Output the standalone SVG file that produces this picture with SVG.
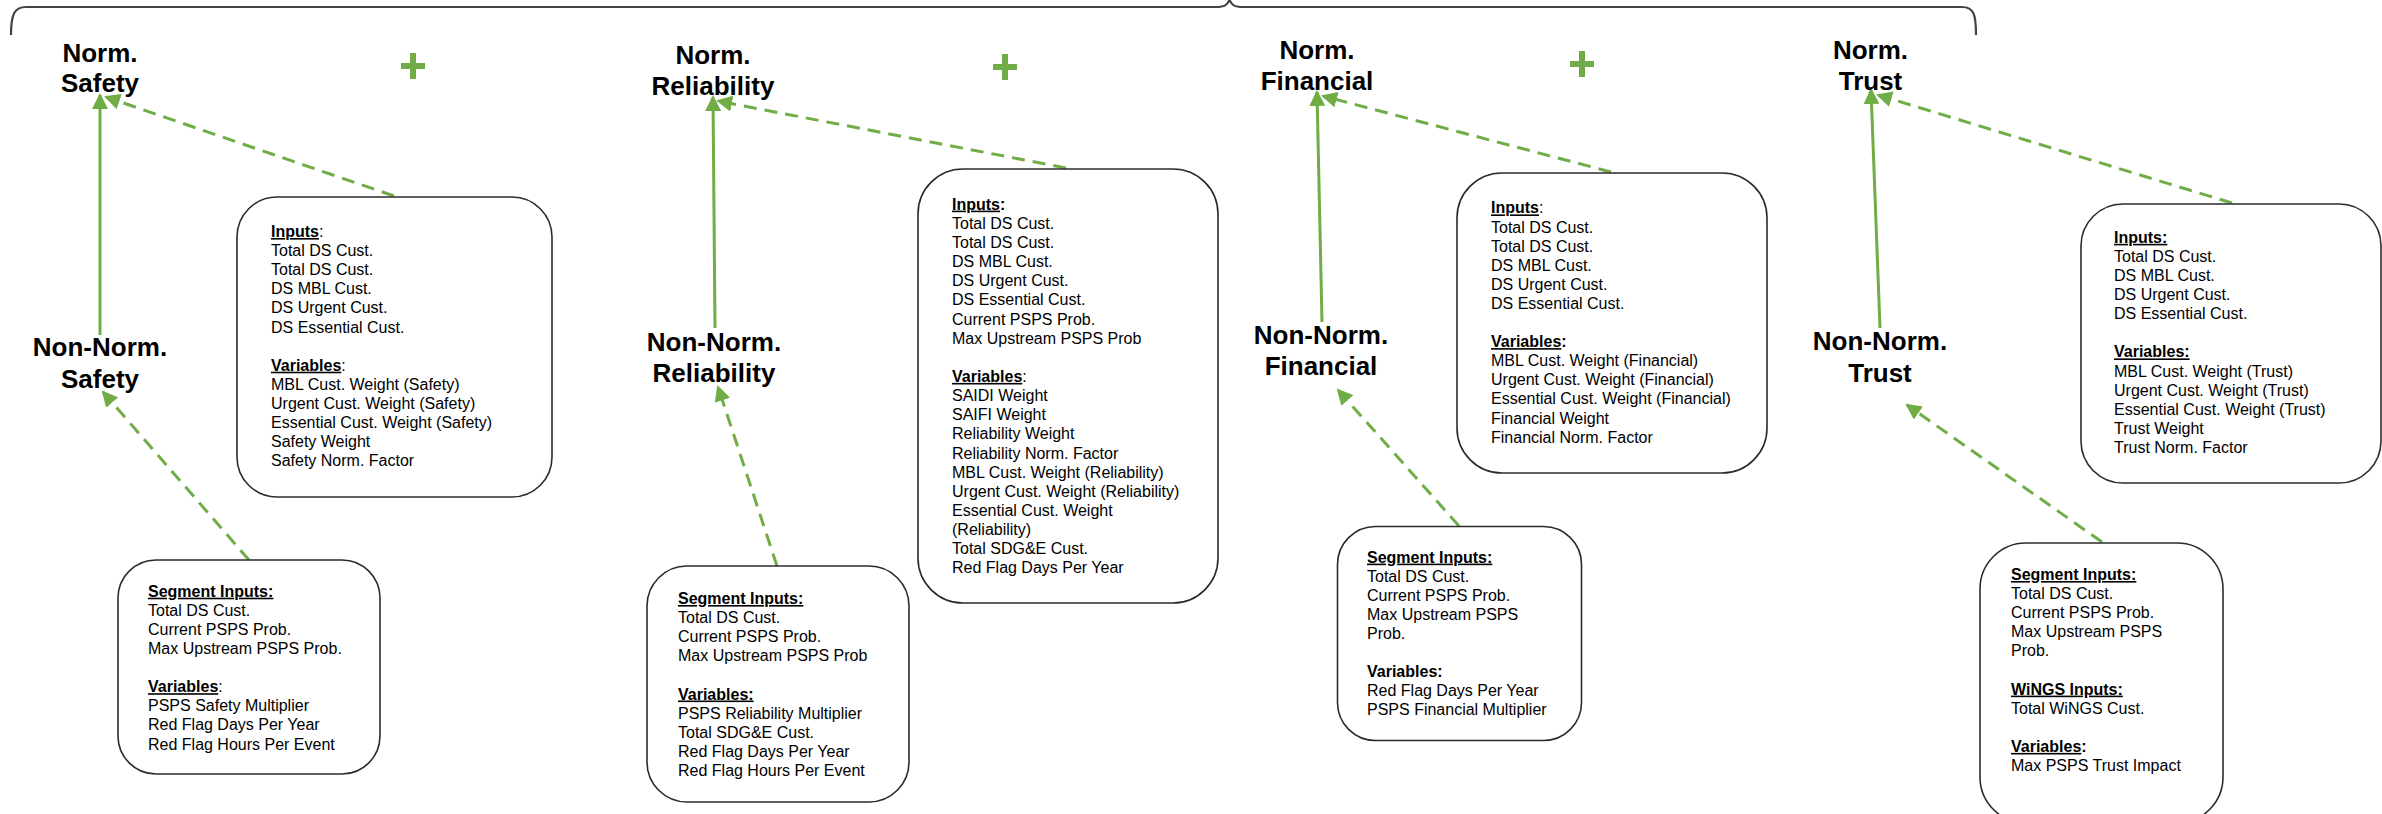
<svg xmlns="http://www.w3.org/2000/svg" width="2382" height="814" viewBox="0 0 2382 814">
  <style>
    text { font-family: "Liberation Sans", Arial, sans-serif; fill: #000; }
    .lbl { font-size: 26px; font-weight: bold; text-anchor: middle; }
    .body { font-size: 16px; }
    .b { font-weight: bold; }
    .u { text-decoration: underline; }
    .box { fill: #fff; stroke: #2b2b2b; stroke-width: 1.6; }
    .brace { fill: none; stroke: #444; stroke-width: 2.2; }
    .solid { fill: none; stroke: #70AD47; stroke-width: 3; marker-end: url(#head); }
    .dash { fill: none; stroke: #70AD47; stroke-width: 3; stroke-dasharray: 13 8; marker-end: url(#head); }
    .plus { fill: #70AD47; }
  </style>
  <defs>
    <marker id="head" viewBox="0 0 16 16" refX="14" refY="8" markerWidth="16" markerHeight="16" markerUnits="userSpaceOnUse" orient="auto">
      <path d="M0,0 L16,8 L0,16 z" fill="#70AD47"/>
    </marker>
  </defs>

  <rect width="2382" height="814" fill="#fff"/>

  <!-- grouping brace over the four normalized scores -->
  <path class="brace" d="M11,35 C11,15 14,7 26,7 L1216,7 C1225,7 1227,5 1229.5,0 C1232,5 1234,7 1243,7 L1962,7 C1974,7 1976,15 1976,35"/>

  <!-- summation signs -->
  <g id="plus-signs">
    <rect class="plus" x="401" y="63" width="24" height="6"/><rect class="plus" x="410" y="53" width="6" height="26"/>
    <rect class="plus" x="993" y="64" width="24" height="6"/><rect class="plus" x="1002" y="54" width="6" height="26"/>
    <rect class="plus" x="1570" y="61" width="24" height="6"/><rect class="plus" x="1579" y="51" width="6" height="26"/>
  </g>

  <!-- connectors -->
  <g id="connectors">
    <line class="solid" x1="100" y1="335" x2="100" y2="95"/>
    <line class="solid" x1="715" y1="328" x2="713" y2="97"/>
    <line class="solid" x1="1322" y1="322" x2="1317" y2="92"/>
    <line class="solid" x1="1880" y1="328" x2="1871" y2="90"/>

    <line class="dash" x1="394" y1="196" x2="106" y2="97"/>
    <line class="dash" x1="1066" y1="168" x2="718" y2="101"/>
    <line class="dash" x1="1611" y1="172" x2="1323" y2="96"/>
    <line class="dash" x1="2232" y1="203" x2="1878" y2="95"/>

    <line class="dash" x1="249" y1="560" x2="103" y2="392"/>
    <line class="dash" x1="777" y1="566" x2="718" y2="387"/>
    <line class="dash" x1="1459" y1="526" x2="1338" y2="390"/>
    <line class="dash" x1="2102" y1="542" x2="1907" y2="405"/>
  </g>

  <!-- Safety column -->
  <g id="norm-safety">
    <text class="lbl"><tspan x="100" y="61.5">Norm.</tspan><tspan x="100" y="92">Safety</tspan></text>
  </g>
  <g id="non-norm-safety">
    <text class="lbl"><tspan x="100" y="356">Non-Norm.</tspan><tspan x="100" y="387.5">Safety</tspan></text>
  </g>
  <g id="safety-inputs">
    <rect class="box" x="237" y="197" width="315" height="300" rx="40"/>
    <text class="body">
      <tspan x="271" y="237"><tspan class="b u">Inputs</tspan>:</tspan>
      <tspan x="271" y="256.1">Total DS Cust.</tspan>
      <tspan x="271" y="275.2">Total DS Cust.</tspan>
      <tspan x="271" y="294.3">DS MBL Cust.</tspan>
      <tspan x="271" y="313.4">DS Urgent Cust.</tspan>
      <tspan x="271" y="332.5">DS Essential Cust.</tspan>
      <tspan x="271" y="370.7"><tspan class="b u">Variables</tspan>:</tspan>
      <tspan x="271" y="389.8">MBL Cust. Weight (Safety)</tspan>
      <tspan x="271" y="408.9">Urgent Cust. Weight (Safety)</tspan>
      <tspan x="271" y="428">Essential Cust. Weight (Safety)</tspan>
      <tspan x="271" y="447.1">Safety Weight</tspan>
      <tspan x="271" y="466.2">Safety Norm. Factor</tspan>
    </text>
  </g>
  <g id="safety-segment">
    <rect class="box" x="118" y="560" width="262" height="214" rx="38"/>
    <text class="body">
      <tspan x="148" y="596.7" class="b u">Segment Inputs:</tspan>
      <tspan x="148" y="615.8">Total DS Cust.</tspan>
      <tspan x="148" y="634.9">Current PSPS Prob.</tspan>
      <tspan x="148" y="654">Max Upstream PSPS Prob.</tspan>
      <tspan x="148" y="692.2"><tspan class="b u">Variables</tspan>:</tspan>
      <tspan x="148" y="711.3">PSPS Safety Multiplier</tspan>
      <tspan x="148" y="730.4">Red Flag Days Per Year</tspan>
      <tspan x="148" y="749.5">Red Flag Hours Per Event</tspan>
    </text>
  </g>

  <!-- Reliability column -->
  <g id="norm-reliability">
    <text class="lbl"><tspan x="713" y="63.5">Norm.</tspan><tspan x="713" y="94.5">Reliability</tspan></text>
  </g>
  <g id="non-norm-reliability">
    <text class="lbl"><tspan x="714" y="350.5">Non-Norm.</tspan><tspan x="714" y="381.5">Reliability</tspan></text>
  </g>
  <g id="reliability-inputs">
    <rect class="box" x="918" y="169" width="300" height="434" rx="45"/>
    <text class="body">
      <tspan x="952" y="209.6"><tspan class="b u">Inputs</tspan><tspan class="b">:</tspan></tspan>
      <tspan x="952" y="228.7">Total DS Cust.</tspan>
      <tspan x="952" y="247.9">Total DS Cust.</tspan>
      <tspan x="952" y="267">DS MBL Cust.</tspan>
      <tspan x="952" y="286.2">DS Urgent Cust.</tspan>
      <tspan x="952" y="305.3">DS Essential Cust.</tspan>
      <tspan x="952" y="324.5">Current PSPS Prob.</tspan>
      <tspan x="952" y="343.6">Max Upstream PSPS Prob</tspan>
      <tspan x="952" y="381.9"><tspan class="b u">Variables</tspan>:</tspan>
      <tspan x="952" y="401.1">SAIDI Weight</tspan>
      <tspan x="952" y="420.2">SAIFI Weight</tspan>
      <tspan x="952" y="439.4">Reliability Weight</tspan>
      <tspan x="952" y="458.5">Reliability Norm. Factor</tspan>
      <tspan x="952" y="477.7">MBL Cust. Weight (Reliability)</tspan>
      <tspan x="952" y="496.8">Urgent Cust. Weight (Reliability)</tspan>
      <tspan x="952" y="516">Essential Cust. Weight</tspan>
      <tspan x="952" y="535.1">(Reliability)</tspan>
      <tspan x="952" y="554.3">Total SDG&amp;E Cust.</tspan>
      <tspan x="952" y="573.4">Red Flag Days Per Year</tspan>
    </text>
  </g>
  <g id="reliability-segment">
    <rect class="box" x="647" y="566" width="262" height="236" rx="40"/>
    <text class="body">
      <tspan x="678" y="604" class="b u">Segment Inputs:</tspan>
      <tspan x="678" y="623.1">Total DS Cust.</tspan>
      <tspan x="678" y="642.2">Current PSPS Prob.</tspan>
      <tspan x="678" y="661.3">Max Upstream PSPS Prob</tspan>
      <tspan x="678" y="699.5" class="b u">Variables:</tspan>
      <tspan x="678" y="718.6">PSPS Reliability Multiplier</tspan>
      <tspan x="678" y="737.7">Total SDG&amp;E Cust.</tspan>
      <tspan x="678" y="756.8">Red Flag Days Per Year</tspan>
      <tspan x="678" y="775.9">Red Flag Hours Per Event</tspan>
    </text>
  </g>

  <!-- Financial column -->
  <g id="norm-financial">
    <text class="lbl"><tspan x="1317" y="58.5">Norm.</tspan><tspan x="1317" y="89.5">Financial</tspan></text>
  </g>
  <g id="non-norm-financial">
    <text class="lbl"><tspan x="1321" y="343.5">Non-Norm.</tspan><tspan x="1321" y="375">Financial</tspan></text>
  </g>
  <g id="financial-inputs">
    <rect class="box" x="1457" y="173" width="310" height="300" rx="45"/>
    <text class="body">
      <tspan x="1491" y="213.4"><tspan class="b u">Inputs</tspan>:</tspan>
      <tspan x="1491" y="232.5">Total DS Cust.</tspan>
      <tspan x="1491" y="251.6">Total DS Cust.</tspan>
      <tspan x="1491" y="270.7">DS MBL Cust.</tspan>
      <tspan x="1491" y="289.8">DS Urgent Cust.</tspan>
      <tspan x="1491" y="308.9">DS Essential Cust.</tspan>
      <tspan x="1491" y="347.1"><tspan class="b u">Variables</tspan><tspan class="b">:</tspan></tspan>
      <tspan x="1491" y="366.2">MBL Cust. Weight (Financial)</tspan>
      <tspan x="1491" y="385.3">Urgent Cust. Weight (Financial)</tspan>
      <tspan x="1491" y="404.4">Essential Cust. Weight (Financial)</tspan>
      <tspan x="1491" y="423.5">Financial Weight</tspan>
      <tspan x="1491" y="442.6">Financial Norm. Factor</tspan>
    </text>
  </g>
  <g id="financial-segment">
    <rect class="box" x="1337.5" y="526.5" width="244" height="214" rx="38"/>
    <text class="body">
      <tspan x="1367" y="562.6" class="b u">Segment Inputs:</tspan>
      <tspan x="1367" y="581.7">Total DS Cust.</tspan>
      <tspan x="1367" y="600.8">Current PSPS Prob.</tspan>
      <tspan x="1367" y="619.9">Max Upstream PSPS</tspan>
      <tspan x="1367" y="639">Prob.</tspan>
      <tspan x="1367" y="677.2" class="b">Variables:</tspan>
      <tspan x="1367" y="696.3">Red Flag Days Per Year</tspan>
      <tspan x="1367" y="715.4">PSPS Financial Multiplier</tspan>
    </text>
  </g>

  <!-- Trust column -->
  <g id="norm-trust">
    <text class="lbl"><tspan x="1870.5" y="58.5">Norm.</tspan><tspan x="1870.5" y="89.5">Trust</tspan></text>
  </g>
  <g id="non-norm-trust">
    <text class="lbl"><tspan x="1880" y="350">Non-Norm.</tspan><tspan x="1880" y="381.5">Trust</tspan></text>
  </g>
  <g id="trust-inputs">
    <rect class="box" x="2081" y="204" width="300" height="279" rx="42"/>
    <text class="body">
      <tspan x="2114" y="242.8" class="b u">Inputs:</tspan>
      <tspan x="2114" y="261.9">Total DS Cust.</tspan>
      <tspan x="2114" y="281">DS MBL Cust.</tspan>
      <tspan x="2114" y="300.1">DS Urgent Cust.</tspan>
      <tspan x="2114" y="319.2">DS Essential Cust.</tspan>
      <tspan x="2114" y="357.4" class="b u">Variables:</tspan>
      <tspan x="2114" y="376.5">MBL Cust. Weight (Trust)</tspan>
      <tspan x="2114" y="395.6">Urgent Cust. Weight (Trust)</tspan>
      <tspan x="2114" y="414.7">Essential Cust. Weight (Trust)</tspan>
      <tspan x="2114" y="433.8">Trust Weight</tspan>
      <tspan x="2114" y="452.9">Trust Norm. Factor</tspan>
    </text>
  </g>
  <g id="trust-segment">
    <rect class="box" x="1980" y="543" width="243" height="280" rx="46"/>
    <text class="body">
      <tspan x="2011" y="580" class="b u">Segment Inputs:</tspan>
      <tspan x="2011" y="599.1">Total DS Cust.</tspan>
      <tspan x="2011" y="618.2">Current PSPS Prob.</tspan>
      <tspan x="2011" y="637.3">Max Upstream PSPS</tspan>
      <tspan x="2011" y="656.4">Prob.</tspan>
      <tspan x="2011" y="694.6" class="b u">WiNGS Inputs:</tspan>
      <tspan x="2011" y="713.7">Total WiNGS Cust.</tspan>
      <tspan x="2011" y="751.9"><tspan class="b u">Variables</tspan><tspan class="b">:</tspan></tspan>
      <tspan x="2011" y="771">Max PSPS Trust Impact</tspan>
    </text>
  </g>
</svg>
